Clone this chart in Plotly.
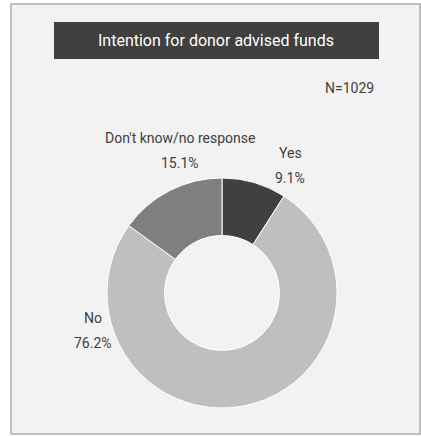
import plotly.graph_objects as go

# chart data
labels = ["Yes", "No", "Don't know/no response"]
values = [9.1, 76.2, 15.1]
colors = ["#404040", "#bfbfbf", "#7f7f7f"]
title_text = "Intention for donor advised funds"
n_text = "N=1029"

W, H = 421, 436
FONT = "Roboto, Liberation Sans Narrow, sans-serif"


def px(x):
    return x / W


def py(y):
    return 1 - y / H


fig = go.Figure()
fig.add_trace(go.Pie(
    labels=labels, values=values, hole=0.5, sort=False,
    direction="clockwise", rotation=0,
    marker=dict(colors=colors, line=dict(color="white", width=1)),
    textinfo="none", hoverinfo="label+percent",
    domain=dict(x=[px(107), px(337)], y=[py(408), py(178)]),
    showlegend=False,
))

# frame and title bar
fig.add_shape(type="rect", xref="paper", yref="paper",
              x0=px(11), x1=px(420), y0=py(434), y1=py(4),
              fillcolor="#f2f2f2", line=dict(color="#bfbfbf", width=2), layer="below")
fig.add_shape(type="rect", xref="paper", yref="paper",
              x0=px(54), x1=px(379), y0=py(59), y1=py(22),
              fillcolor="#404040", line=dict(width=0), layer="below")
fig.add_annotation(text=title_text, x=px(216), y=py(40), xref="paper", yref="paper",
                   xanchor="center", yanchor="middle", showarrow=False,
                   font=dict(family=FONT, size=16, color="white"))
fig.add_annotation(text=n_text, x=px(376), y=py(88), xref="paper", yref="paper",
                   xanchor="right", yanchor="middle", showarrow=False,
                   font=dict(family=FONT, size=14, color="#404040"))

# slice labels (placed like the original, off the slices), name above percent
label_pos = {"Yes": (290, 165), "No": (93, 330), "Don't know/no response": (180, 150)}
for lab, val in zip(labels, values):
    x, y = label_pos[lab]
    for txt, dy in ((lab, -12), (f"{val:.1f}%", 13)):
        fig.add_annotation(text=txt, x=px(x), y=py(y + dy),
                           xref="paper", yref="paper", xanchor="center", yanchor="middle",
                           showarrow=False,
                           font=dict(family=FONT, size=14, color="#404040"))

fig.update_layout(width=W, height=H, margin=dict(l=0, r=0, t=0, b=0),
                  paper_bgcolor="white", plot_bgcolor="white")
fig.write_html("out.html", config={"displayModeBar": False},
               post_script="document.body.style.margin='0';")
